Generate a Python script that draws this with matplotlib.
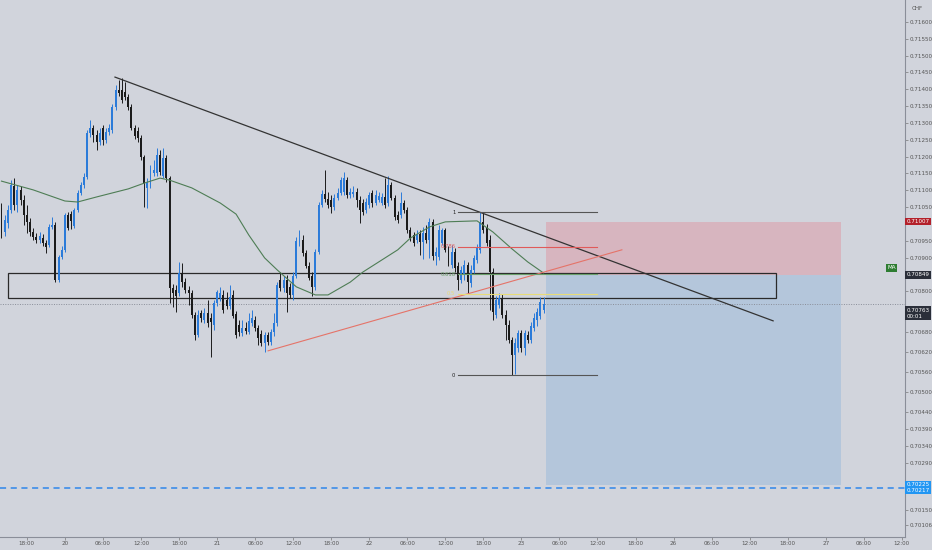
import numpy as np
import matplotlib
matplotlib.use('Agg')
import matplotlib.pyplot as plt
from matplotlib.patches import Rectangle

# 30 minute candles, USDCHF-style quote (price values)
opens = [0.71047, 0.70976, 0.71003, 0.71041, 0.71112, 0.71056, 0.71101, 0.71071, 0.71026, 0.71006,
         0.70976, 0.70961, 0.70952, 0.70958, 0.70943, 0.70937, 0.70991, 0.70997, 0.70833, 0.70902,
         0.70923, 0.71026, 0.71029, 0.70994, 0.71041, 0.71092, 0.71115, 0.71139, 0.71270, 0.71285,
         0.71264, 0.71243, 0.71285, 0.71249, 0.71273, 0.71279, 0.71347, 0.71398, 0.71398, 0.71392,
         0.71377, 0.71347, 0.71285, 0.71276, 0.71255, 0.71199, 0.71107, 0.71115, 0.71151, 0.71151,
         0.71205, 0.71142, 0.71196, 0.71136, 0.70810, 0.70804, 0.70795, 0.70854, 0.70827, 0.70804,
         0.70795, 0.70729, 0.70670, 0.70735, 0.70715, 0.70735, 0.70721, 0.70700, 0.70765, 0.70780,
         0.70789, 0.70774, 0.70756, 0.70789, 0.70732, 0.70700, 0.70676, 0.70691, 0.70679, 0.70706,
         0.70715, 0.70691, 0.70673, 0.70646, 0.70670, 0.70649, 0.70679, 0.70706, 0.70833, 0.70810,
         0.70833, 0.70813, 0.70789, 0.70845, 0.70943, 0.70952, 0.70914, 0.70875, 0.70845, 0.70813,
         0.70917, 0.71056, 0.71089, 0.71074, 0.71071, 0.71050, 0.71077, 0.71092, 0.71095, 0.71130,
         0.71086, 0.71089, 0.71095, 0.71071, 0.71062, 0.71041, 0.71056, 0.71092, 0.71062, 0.71071,
         0.71062, 0.71080, 0.71062, 0.71115, 0.71077, 0.71026, 0.71026, 0.71062, 0.71041, 0.70982,
         0.70967, 0.70952, 0.70970, 0.70946, 0.70973, 0.70952, 0.71006, 0.70905, 0.70902, 0.70943,
         0.70982, 0.70923, 0.70878, 0.70917, 0.70875, 0.70833, 0.70848, 0.70878, 0.70824, 0.70863,
         0.70893, 0.70923, 0.71006, 0.70988, 0.70952, 0.70857, 0.70729, 0.70759, 0.70780, 0.70729,
         0.70700, 0.70655, 0.70611, 0.70631, 0.70676, 0.70631, 0.70670, 0.70655, 0.70691, 0.70715,
         0.70727, 0.70744]
highs = [0.71062, 0.71026, 0.71056, 0.71130, 0.71136, 0.71115, 0.71112, 0.71086, 0.71056, 0.71017,
         0.70988, 0.70973, 0.70976, 0.70970, 0.70952, 0.71000, 0.71020, 0.71006, 0.70908, 0.70934,
         0.71032, 0.71035, 0.71038, 0.71047, 0.71101, 0.71124, 0.71151, 0.71279, 0.71309, 0.71294,
         0.71279, 0.71285, 0.71294, 0.71285, 0.71297, 0.71356, 0.71412, 0.71427, 0.71433, 0.71421,
         0.71386, 0.71356, 0.71294, 0.71288, 0.71264, 0.71205, 0.71136, 0.71175, 0.71190, 0.71226,
         0.71220, 0.71226, 0.71205, 0.71142, 0.70822, 0.70819, 0.70887, 0.70884, 0.70839, 0.70816,
         0.70804, 0.70738, 0.70744, 0.70744, 0.70750, 0.70774, 0.70735, 0.70774, 0.70804, 0.70813,
         0.70804, 0.70798, 0.70819, 0.70804, 0.70741, 0.70715, 0.70715, 0.70709, 0.70735, 0.70744,
         0.70727, 0.70700, 0.70685, 0.70679, 0.70679, 0.70688, 0.70735, 0.70827, 0.70857, 0.70845,
         0.70848, 0.70824, 0.70857, 0.70961, 0.70982, 0.70967, 0.70923, 0.70887, 0.70857, 0.70926,
         0.71065, 0.71101, 0.71160, 0.71095, 0.71086, 0.71089, 0.71107, 0.71139, 0.71154, 0.71139,
         0.71107, 0.71112, 0.71107, 0.71083, 0.71074, 0.71077, 0.71095, 0.71101, 0.71101, 0.71095,
         0.71092, 0.71136, 0.71142, 0.71124, 0.71086, 0.71038, 0.71095, 0.71071, 0.71050, 0.70991,
         0.70976, 0.70982, 0.70982, 0.70991, 0.70997, 0.71017, 0.71015, 0.70931, 0.70997, 0.70988,
         0.70988, 0.70934, 0.70937, 0.70929, 0.70887, 0.70875, 0.70893, 0.70887, 0.70878, 0.70908,
         0.70940, 0.71035, 0.71035, 0.71000, 0.70967, 0.70869, 0.70786, 0.70795, 0.70792, 0.70744,
         0.70715, 0.70664, 0.70661, 0.70685, 0.70685, 0.70685, 0.70682, 0.70709, 0.70735, 0.70750,
         0.70783, 0.70783]
lows = [0.70958, 0.70964, 0.70988, 0.71032, 0.71041, 0.71035, 0.71056, 0.70997, 0.70973, 0.70964,
        0.70952, 0.70943, 0.70943, 0.70934, 0.70914, 0.70931, 0.70985, 0.70827, 0.70827, 0.70896,
        0.70917, 0.70982, 0.70985, 0.70988, 0.71035, 0.71086, 0.71106, 0.71133, 0.71258, 0.71243,
        0.71220, 0.71234, 0.71234, 0.71240, 0.71264, 0.71270, 0.71338, 0.71380, 0.71359, 0.71368,
        0.71338, 0.71279, 0.71252, 0.71243, 0.71190, 0.71050, 0.71047, 0.71107, 0.71142, 0.71142,
        0.71145, 0.71136, 0.71124, 0.70765, 0.70753, 0.70738, 0.70786, 0.70813, 0.70795, 0.70759,
        0.70721, 0.70655, 0.70664, 0.70709, 0.70706, 0.70694, 0.70605, 0.70685, 0.70756, 0.70771,
        0.70735, 0.70747, 0.70747, 0.70721, 0.70661, 0.70667, 0.70667, 0.70673, 0.70673, 0.70697,
        0.70682, 0.70640, 0.70637, 0.70620, 0.70640, 0.70640, 0.70667, 0.70697, 0.70801, 0.70798,
        0.70738, 0.70780, 0.70774, 0.70839, 0.70934, 0.70905, 0.70869, 0.70833, 0.70786, 0.70804,
        0.70911, 0.71050, 0.71065, 0.71047, 0.71032, 0.71041, 0.71071, 0.71086, 0.71086, 0.71077,
        0.71077, 0.71080, 0.71050, 0.71003, 0.71026, 0.71032, 0.71047, 0.71050, 0.71056, 0.71065,
        0.71056, 0.71047, 0.71053, 0.71071, 0.71012, 0.71003, 0.71017, 0.71032, 0.70973, 0.70949,
        0.70934, 0.70943, 0.70908, 0.70896, 0.70943, 0.70899, 0.70893, 0.70878, 0.70893, 0.70937,
        0.70917, 0.70875, 0.70869, 0.70857, 0.70804, 0.70824, 0.70833, 0.70795, 0.70813, 0.70854,
        0.70884, 0.70914, 0.70973, 0.70934, 0.70744, 0.70715, 0.70721, 0.70750, 0.70721, 0.70655,
        0.70646, 0.70551, 0.70554, 0.70620, 0.70620, 0.70611, 0.70646, 0.70646, 0.70682, 0.70697,
        0.70718, 0.70735]
closes = [0.70973, 0.71012, 0.71041, 0.71115, 0.71056, 0.71101, 0.71071, 0.71026, 0.71006, 0.70976,
          0.70961, 0.70952, 0.70964, 0.70943, 0.70931, 0.70991, 0.70997, 0.70833, 0.70902, 0.70923,
          0.71026, 0.70988, 0.71009, 0.71041, 0.71092, 0.71115, 0.71139, 0.71270, 0.71285, 0.71264,
          0.71243, 0.71270, 0.71249, 0.71273, 0.71285, 0.71347, 0.71398, 0.71389, 0.71368, 0.71377,
          0.71347, 0.71285, 0.71261, 0.71255, 0.71199, 0.71118, 0.71121, 0.71166, 0.71160, 0.71205,
          0.71154, 0.71196, 0.71136, 0.70810, 0.70795, 0.70786, 0.70854, 0.70827, 0.70804, 0.70795,
          0.70729, 0.70670, 0.70729, 0.70721, 0.70735, 0.70706, 0.70709, 0.70765, 0.70798, 0.70795,
          0.70744, 0.70756, 0.70783, 0.70727, 0.70670, 0.70679, 0.70691, 0.70682, 0.70712, 0.70721,
          0.70691, 0.70661, 0.70646, 0.70670, 0.70649, 0.70679, 0.70706, 0.70819, 0.70810, 0.70833,
          0.70795, 0.70789, 0.70845, 0.70949, 0.70955, 0.70914, 0.70875, 0.70839, 0.70813, 0.70917,
          0.71056, 0.71089, 0.71074, 0.71056, 0.71050, 0.71077, 0.71092, 0.71130, 0.71136, 0.71086,
          0.71095, 0.71095, 0.71071, 0.71041, 0.71035, 0.71065, 0.71086, 0.71062, 0.71086, 0.71083,
          0.71080, 0.71056, 0.71115, 0.71077, 0.71020, 0.71012, 0.71062, 0.71041, 0.70982, 0.70958,
          0.70943, 0.70967, 0.70946, 0.70973, 0.70952, 0.71006, 0.70905, 0.70917, 0.70982, 0.70982,
          0.70923, 0.70884, 0.70917, 0.70869, 0.70833, 0.70863, 0.70878, 0.70827, 0.70863, 0.70899,
          0.70929, 0.71006, 0.70982, 0.70943, 0.70857, 0.70738, 0.70774, 0.70780, 0.70729, 0.70700,
          0.70655, 0.70611, 0.70646, 0.70676, 0.70631, 0.70676, 0.70655, 0.70697, 0.70721, 0.70738,
          0.70768, 0.70763]

# moving average read at a few candles
ma_idx = [0, 10, 20, 24, 30, 40, 45, 50, 53, 60, 69, 74, 78, 83, 87, 93, 99, 103, 110, 114,
          125, 129, 135, 140, 150, 155, 161, 166, 171]
ma_val = [0.71127, 0.71101, 0.71068, 0.71065, 0.71080, 0.71104, 0.71121, 0.71136, 0.71130, 0.71107,
          0.71062, 0.71029, 0.70967, 0.70899, 0.70863, 0.70813, 0.70789, 0.70789, 0.70827, 0.70857,
          0.70923, 0.70958, 0.70991, 0.71006, 0.71009, 0.70976, 0.70926, 0.70887, 0.70854]

time_labels = ['18:00', '20', '06:00', '12:00', '18:00', '21', '06:00', '12:00', '18:00', '22',
               '06:00', '12:00', '18:00', '23', '06:00', '12:00', '18:00', '26', '06:00', '12:00',
               '18:00', '27', '06:00', '12:00']
first_tick_bar = 8
bars_per_tick = 12

price_ticks = [0.71600, 0.71550, 0.71500, 0.71450, 0.71400, 0.71350, 0.71300, 0.71250, 0.71200,
               0.71150, 0.71100, 0.71050, 0.70950, 0.70900, 0.70800, 0.70680, 0.70620, 0.70560,
               0.70500, 0.70440, 0.70390, 0.70340, 0.70290, 0.70150, 0.70106]

# drawings (bar index, price)
trend_down = [(35.8, 0.71436), (243.4, 0.70712)]
trend_up = [(84.1, 0.70623), (195.7, 0.70923)]
zone = (2.05, 244.3, 0.70780, 0.70854)
fib_hi, fib_lo = 0.71035, 0.70551
fib_x = (144, 188)
fib_levels = [1, 0.786, 0.618, 0.5, 0]
fib_colors = ['#555555', '#e05a5a', '#6a9f6a', '#e8dc78', '#555555']
pos_x = (171.8, 264.8)
entry, stop, target = 0.70849, 0.71007, 0.70225
alert = 0.70217
last_price = 0.70763

bg = '#d1d4dc'
up_col = '#2b7bd9'
dn_col = '#1b1b1b'
fs = 4.1

fig = plt.figure(figsize=(9.32, 5.5), dpi=100)
fig.patch.set_facecolor(bg)
ax = fig.add_axes([0, 13 / 550, 905 / 932, 537 / 550])
ax.set_facecolor(bg)

n = len(closes)
idx = np.arange(n)
o = np.array(opens)
c = np.array(closes)
cols = [up_col if c[i] >= o[i] else dn_col for i in range(n)]

# position tool
ax.add_patch(Rectangle((pos_x[0], entry), pos_x[1] - pos_x[0], stop - entry,
                       facecolor='#d7b5bf', edgecolor='none', zorder=1))
ax.add_patch(Rectangle((pos_x[0], target), pos_x[1] - pos_x[0], entry - target,
                       facecolor='#b4c6db', edgecolor='none', zorder=1))

# zone box
ax.add_patch(Rectangle((zone[0], zone[2]), zone[1] - zone[0], zone[3] - zone[2],
                       facecolor='none', edgecolor='#2a2a2a', lw=0.9, zorder=2))

# candles
ax.vlines(idx, lows, highs, colors=cols, lw=0.7, zorder=3)
ax.bar(idx, c - o, bottom=o, width=0.62, color=cols, zorder=3)

# moving average
ax.plot(ma_idx, ma_val, color='#4e7d55', lw=0.8, zorder=4)

# trend lines
ax.plot(*zip(*trend_down), color='#333333', lw=0.9, zorder=4)
ax.plot(*zip(*trend_up), color='#e57368', lw=0.8, zorder=4)

# fib retracement
for lev, col in zip(fib_levels, fib_colors):
    p = fib_lo + (fib_hi - fib_lo) * lev
    ax.plot(fib_x, [p, p], color=col, lw=0.8, zorder=4)
    ax.text(fib_x[0] - 0.8, p, str(lev), color=col if lev not in (0, 1) else '#222222',
            fontsize=3.8, ha='right', va='center', zorder=5)

# price lines
ax.axhline(last_price, color='#8a8e99', lw=0.7, ls=(0, (1, 1.5)), zorder=2)
ax.axhline(alert, color='#2f86eb', lw=1.1, ls=(0, (4, 3)), zorder=2)

ax.set_xlim(-0.47, 285.0)
ax.set_ylim(0.70070, 0.71665)

ticks_x = [first_tick_bar + bars_per_tick * k for k in range(len(time_labels))]
ax.set_xticks(ticks_x)
ax.set_xticklabels(time_labels, fontsize=fs, color='#555555')
ax.yaxis.tick_right()
ax.set_yticks(price_ticks)
ax.set_yticklabels(['%.5f' % v for v in price_ticks], fontsize=fs, color='#555555')
ax.tick_params(axis='both', length=2, width=0.5, color='#777777', pad=1)
for s in ['top', 'left']:
    ax.spines[s].set_visible(False)
for s in ['right', 'bottom']:
    ax.spines[s].set_color('#8a8e99')
    ax.spines[s].set_linewidth(0.8)


def tag(price, text, fc, tc='white', x=1.0, ha='left', dx=1.0):
    ax.annotate(text, xy=(x, price), xycoords=('axes fraction', 'data'),
                xytext=(dx, 0), textcoords='offset points', ha=ha, va='center',
                fontsize=fs, color=tc, zorder=10, annotation_clip=False,
                bbox=dict(boxstyle='square,pad=0.25', fc=fc, ec='none'))


tag(stop, '0.71007', '#b3202a')
tag(0.70869, 'MA', '#2e7d32', x=0.99, ha='right', dx=0)
tag(entry, '0.70849', '#2a2e39')
tag(0.70735, '0.70763\n00:01', '#2a2e39')
tag(target, '0.70225', '#2196f3')
tag(alert - 0.00008, '0.70217', '#2196f3')
ax.annotate('CHF', xy=(1.0, 0.71640), xycoords=('axes fraction', 'data'),
            xytext=(5, 0), textcoords='offset points', fontsize=fs,
            color='#555555', va='center', annotation_clip=False)

fig.savefig('out.png', dpi=100, facecolor=bg)
